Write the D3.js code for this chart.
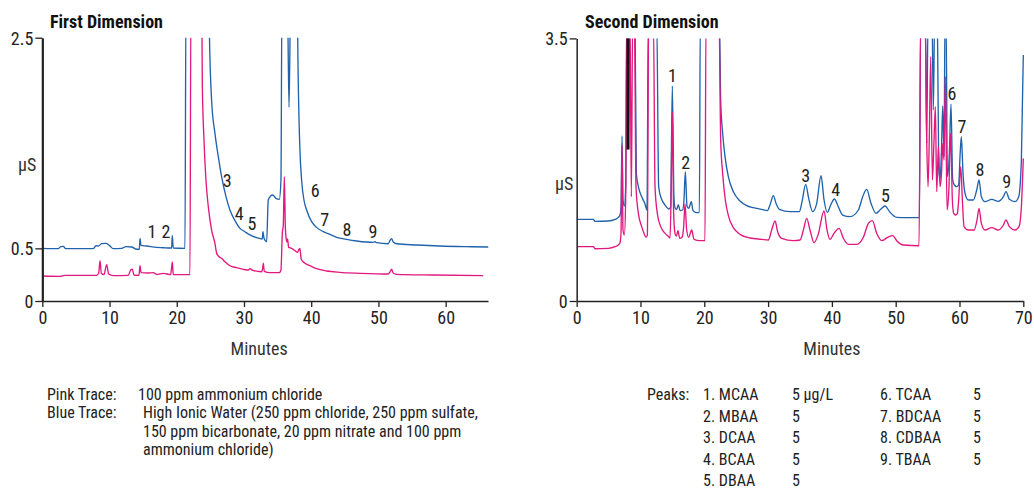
<!DOCTYPE html>
<html><head><meta charset="utf-8">
<script src="https://cdn.jsdelivr.net/npm/d3@7/dist/d3.min.js"></script>
<style>
html,body{margin:0;padding:0;background:#fff;}
svg{display:block;}
</style></head>
<body>
<svg id="c" width="1034" height="491"></svg>
<script>
// ---------------- DATA ----------------
const titles = ["First Dimension", "Second Dimension"];
const xLabel = "Minutes";
const yLabel = "µS";

const leftYTicks = [0, 0.5, 2.5];
const leftXTicks = [0, 10, 20, 30, 40, 50, 60];
const rightYTicks = [0, 3.5];
const rightXTicks = [0, 10, 20, 30, 40, 50, 60, 70];

// First dimension, blue trace [minutes, µS]
const leftBlue = [
[0,0.500],[2.38,0.497],[2.73,0.516],[3.12,0.519],[3.47,0.497],[7.59,0.497],[7.98,0.525],[8.33,0.522],
[8.83,0.544],[9.47,0.547],[9.97,0.528],[10.56,0.497],[11.80,0.500],[12.44,0.516],[13.29,0.513],[14.03,0.491],
[14.43,0.491],[14.53,0.595],[14.68,0.528],[15.52,0.522],[17.01,0.509],[18.0,0.506],[18.99,0.503],[19.24,0.503],
[19.33,0.623],[19.48,0.503],[21.22,0.500],[21.37,2.9],[24.8,2.9],[24.84,2.6],[25.18,1.908],[25.68,1.592],
[26.18,1.370],[26.67,1.180],[27.32,0.991],[27.91,0.864],[28.66,0.763],[29.40,0.690],[30.14,0.658],[30.89,0.627],
[31.88,0.601],[32.72,0.589],[32.82,0.658],[32.97,0.598],[33.37,0.563],[33.61,0.959],[33.96,0.997],[34.26,1.006],
[34.75,0.975],[35.25,0.965],[35.50,1.149],[35.65,2.9],[36.45,2.9],[36.70,1.84],[36.95,2.9],[37.95,2.9],
[37.98,2.6],[38.18,1.75],[38.32,1.434],[38.57,1.149],[38.92,0.959],[39.32,0.864],[40.06,0.753],[40.80,0.699],
[41.79,0.658],[42.79,0.633],[43.78,0.604],[45.26,0.585],[46.75,0.570],[48.24,0.560],[49.23,0.557],[49.48,0.563],
[49.73,0.554],[51.46,0.544],[51.71,0.573],[51.96,0.592],[52.21,0.560],[52.70,0.544],[55.68,0.532],[59.15,0.522],
[63.11,0.516],[66.34,0.513]
];
// First dimension, pink trace
const leftPink = [
[0,0.237],[2.63,0.234],[3.37,0.244],[8.08,0.244],[8.38,0.263],[8.58,0.383],[8.78,0.263],[9.17,0.250],
[9.57,0.345],[9.87,0.256],[10.56,0.241],[12.79,0.244],[13.14,0.294],[13.39,0.301],[13.63,0.247],[14.38,0.244],
[14.53,0.335],[14.68,0.269],[15.77,0.266],[16.51,0.269],[17.01,0.253],[18.00,0.263],[19.09,0.250],[19.34,0.370],
[19.48,0.250],[21.96,0.250],[22.11,2.9],[23.70,2.9],[23.80,2.066],[24.05,1.528],[24.34,1.149],[24.69,0.896],
[25.18,0.674],[25.68,0.547],[25.93,0.453],[26.18,0.427],[26.67,0.405],[27.17,0.373],[27.91,0.335],[28.90,0.316],
[29.90,0.301],[30.64,0.294],[30.89,0.307],[31.23,0.294],[32.62,0.278],[32.77,0.307],[32.87,0.358],[33.02,0.282],
[33.86,0.269],[35.25,0.269],[35.50,0.294],[35.70,0.642],[35.85,0.722],[36.00,1.180],[36.15,0.706],[36.30,0.579],
[36.39,0.563],[36.49,0.589],[36.64,0.509],[37.08,0.500],[37.58,0.478],[37.98,0.462],[38.18,0.491],[38.32,0.500],
[38.52,0.396],[39.07,0.358],[39.81,0.335],[40.80,0.307],[42.29,0.285],[44.27,0.272],[47.25,0.263],[51.46,0.256],
[51.71,0.275],[51.96,0.301],[52.21,0.263],[52.70,0.253],[58.16,0.247],[65.59,0.241]
];
// Second dimension, blue trace
const rightBlue = [
[0,1.088],[2.61,1.088],[2.87,1.062],[4.96,1.066],[6.01,1.088],[6.53,1.115],[6.79,1.146],[6.95,1.257],
[7.11,2.199],[7.26,1.346],[7.47,1.266],[7.68,1.524],[7.84,3.8],[8.0,3.8],[8.10,2.021],[8.25,3.8],
[9.14,3.8],[9.35,1.70],[9.67,1.524],[10.19,1.390],[10.71,1.293],[11.02,1.213],[11.23,3.8],[12.54,3.8],
[12.85,1.524],[13.32,1.355],[13.85,1.279],[14.47,1.226],[14.73,1.257],[14.99,2.865],[15.26,1.346],[15.46,1.235],
[15.67,1.222],[15.94,1.284],[16.20,1.204],[16.61,1.213],[16.82,1.346],[17.03,1.724],[17.29,1.266],[17.55,1.235],
[17.97,1.324],[18.23,1.204],[18.81,1.177],[19.23,1.177],[19.38,3.8],[22.36,3.8],[22.57,2.679],[22.88,2.235],
[23.25,1.924],[23.77,1.657],[24.56,1.457],[25.60,1.333],[26.65,1.271],[27.69,1.244],[29.00,1.222],[29.89,1.204],
[30.30,1.279],[30.83,1.404],[31.24,1.302],[31.77,1.222],[33.44,1.191],[34.90,1.191],[35.32,1.324],[35.89,1.555],
[36.36,1.368],[36.99,1.191],[37.62,1.302],[38.30,1.670],[38.77,1.346],[39.29,1.182],[39.81,1.279],[40.39,1.359],
[41.01,1.257],[41.69,1.146],[42.84,1.124],[44.15,1.213],[44.83,1.390],[45.45,1.488],[46.13,1.302],[46.92,1.168],
[47.65,1.222],[48.33,1.266],[49.11,1.182],[50.16,1.115],[51.72,1.111],[53.71,1.111],[53.92,3.8],[54.65,3.8],
[54.86,2.101],[55.07,3.8],[55.69,3.8],[55.90,2.546],[56.11,3.8],[56.53,3.8],[56.74,1.790],[56.95,1.613],
[57.16,1.968],[57.37,2.599],[57.58,1.924],[57.73,3.8],[57.89,3.8],[58.10,1.657],[58.41,1.968],[58.67,2.625],
[58.93,1.613],[59.20,1.546],[59.56,1.524],[59.87,1.546],[60.08,1.924],[60.29,2.190],[60.55,1.701],[60.87,1.435],
[61.39,1.346],[62.17,1.346],[62.70,1.479],[63.06,1.613],[63.43,1.390],[64.00,1.324],[65.05,1.355],[66.09,1.328],
[66.88,1.390],[67.29,1.457],[67.82,1.355],[68.70,1.324],[69.28,1.390],[69.70,1.879],[70.0,3.279]
];
// Second dimension, pink trace
const rightPink = [
[0,0.724],[2.61,0.724],[2.87,0.697],[4.96,0.702],[6.01,0.724],[6.53,0.746],[6.79,0.777],[6.95,0.902],
[7.11,2.079],[7.26,0.946],[7.47,0.880],[7.68,1.346],[7.89,3.8],[8.36,3.8],[8.57,1.390],[8.78,3.8],
[9.04,3.8],[9.30,1.524],[9.67,1.168],[10.19,0.991],[10.55,0.902],[10.87,0.849],[11.08,0.880],[11.29,3.8],
[12.02,3.8],[12.28,1.524],[12.64,1.168],[13.17,0.991],[13.85,0.902],[14.42,0.857],[14.63,0.840],[14.79,1.346],
[14.99,2.523],[15.20,1.168],[15.41,0.902],[15.62,0.866],[15.88,0.937],[16.14,0.835],[16.51,0.849],[16.77,0.991],
[16.98,1.293],[17.24,0.946],[17.55,0.849],[18.03,0.946],[18.39,0.822],[19.33,0.804],[20.11,0.804],[20.27,3.8],
[22.31,3.8],[22.57,2.146],[22.88,1.701],[23.30,1.346],[23.82,1.124],[24.56,0.977],[25.60,0.888],[27.17,0.840],
[29.00,0.822],[30.04,0.813],[30.56,0.946],[31.09,1.066],[31.50,0.924],[32.13,0.835],[33.96,0.804],[35.01,0.813],
[35.53,0.946],[36.05,1.102],[36.57,0.946],[37.20,0.777],[37.83,0.880],[38.77,1.199],[39.24,0.946],[39.71,0.822],
[40.33,0.902],[41.12,0.968],[41.80,0.835],[42.58,0.755],[43.89,0.755],[44.93,0.849],[45.72,1.035],[46.34,1.071],
[47.02,0.902],[47.81,0.804],[48.75,0.849],[49.53,0.871],[50.16,0.804],[51.20,0.746],[53.66,0.737],[53.92,3.8],
[54.60,3.8],[54.86,2.146],[55.07,1.524],[55.28,2.235],[55.49,3.256],[55.75,1.613],[56.01,2.146],[56.22,2.590],
[56.43,1.457],[56.69,2.057],[56.95,1.524],[57.21,1.746],[57.37,2.101],[57.58,1.879],[57.78,2.990],[58.05,1.213],
[58.31,1.435],[58.62,2.235],[58.88,1.346],[59.09,1.168],[59.40,1.146],[59.67,1.168],[59.87,1.346],[60.19,1.790],
[60.45,1.346],[60.71,0.991],[61.39,0.946],[62.28,0.946],[62.75,1.080],[63.06,1.235],[63.43,1.035],[64.00,0.946],
[65.05,0.977],[66.09,0.946],[66.88,1.013],[67.29,1.080],[67.82,0.991],[68.70,0.946],[69.33,0.991],[69.70,1.257],
[70.0,1.901]
];
// overlapping dark segment near 8 min (second dimension)
const rightOverlap = [[8.05,3.8],[8.06,2.02]];

// peak labels [label, minutes, µS]
const leftPeakLabels = [["1",16.3,0.655],["2",18.4,0.655],["3",27.5,1.14],["4",29.3,0.835],["5",31.2,0.74],
  ["6",40.6,1.045],["7",42.0,0.778],["8",45.3,0.683],["9",49.2,0.664]];
const rightPeakLabels = [["1",15.0,3.0],["2",17.1,1.848],["3",35.9,1.679],["4",40.6,1.49],["5",48.4,1.40],
  ["6",58.8,2.76],["7",60.4,2.323],["8",63.2,1.755],["9",67.4,1.59]];

// legend texts
const traceLegend = [
  ["Pink Trace:", "100 ppm ammonium chloride"],
  ["Blue Trace:", "High Ionic Water (250 ppm chloride, 250 ppm sulfate,"],
  ["", "150 ppm bicarbonate, 20 ppm nitrate and 100 ppm"],
  ["", "ammonium chloride)"]
];
const peakNames = ["1. MCAA","2. MBAA","3. DCAA","4. BCAA","5. DBAA","6. TCAA","7. BDCAA","8. CDBAA","9. TBAA"];
const peakConc = ["5 µg/L","5","5","5","5","5","5","5","5"];

// ---------------- DRAWING ----------------
const FONT = "'Liberation Sans Narrow','Arial Narrow','Roboto Condensed','DejaVu Sans Condensed',sans-serif";
const BLUE = "#1f63ad", PINK = "#e2187f";
const svg = d3.select("#c").style("font-family", FONT);

function chart(o) {
  const x = d3.scaleLinear().domain([0, o.xMax]).range([o.left, o.right]);
  const y = d3.scaleLinear().domain([0, o.yMax]).range([o.bottom, o.top]);
  const g = svg.append("g");
  const cid = "clip" + o.id;
  svg.append("defs").append("clipPath").attr("id", cid).append("rect")
    .attr("x", o.left).attr("y", o.top).attr("width", o.right - o.left + 1).attr("height", o.bottom - o.top);
  const plot = g.append("g").attr("clip-path", `url(#${cid})`);
  o.series.forEach(s => {
    const line = d3.line().x(d => x(d[0])).y(d => y(d[1])).curve(s.curve || d3.curveMonotoneX);
    plot.append("path").attr("d", line(s.data)).attr("fill", "none")
      .attr("stroke", s.color).attr("stroke-width", s.width || 1.35).attr("stroke-linejoin", "round");
  });
  // axes
  const ax = g.append("g").attr("transform", `translate(0,${o.bottom})`)
    .call(d3.axisBottom(x).tickValues(o.xTicks).tickSize(6).tickSizeOuter(0).tickPadding(4).tickFormat(d => d));
  const ay = g.append("g").attr("transform", `translate(${o.left},0)`)
    .call(d3.axisLeft(y).tickValues(o.yTicks).tickSize(7).tickSizeOuter(0).tickPadding(2).tickFormat(d => d));
  [ax, ay].forEach(a => {
    a.selectAll("text").attr("font-family", FONT).attr("font-size", 18).attr("fill", "#222");
    a.selectAll("line").attr("stroke", "#222").attr("stroke-width", 1.3);
    a.select(".domain").attr("stroke", "#222").attr("stroke-width", 1.5);
  });
  ay.select(".domain").attr("stroke-width", o.yAxisWidth);
  ay.selectAll("text").attr("dy", "0.36em");
  // labels
  g.append("text").attr("x", o.titleX).attr("y", 28).attr("font-weight", "bold").attr("font-size", 18)
    .attr("fill", "#111").text(o.title);
  g.append("text").attr("x", (x(0) + x(o.xLabelMax)) / 2).attr("y", 355).attr("text-anchor", "middle")
    .attr("font-size", 18).attr("fill", "#333").text(xLabel);
  g.append("text").attr("x", o.yLabelX).attr("y", o.yLabelY).attr("font-size", 18).attr("fill", "#333").text(yLabel);
  g.selectAll(".pk").data(o.peaks).enter().append("text")
    .attr("x", d => x(d[1])).attr("y", d => y(d[2])).attr("dy", "0.36em")
    .attr("text-anchor", "middle").attr("font-size", 18).attr("fill", "#222").text(d => d[0]);
}

chart({id: 1, left: 42.33, right: 488, top: 37.7, bottom: 301, xMax: 66.3, yMax: 2.5,
  xTicks: leftXTicks, yTicks: leftYTicks, yAxisWidth: 2.2, title: titles[0], titleX: 50,
  xLabelMax: 64.5, yLabelX: 18, yLabelY: 171, peaks: leftPeakLabels,
  series: [{data: leftBlue, color: BLUE}, {data: leftPink, color: PINK}]});

chart({id: 2, left: 576.67, right: 1023.3, top: 38.4, bottom: 301, xMax: 70, yMax: 3.5,
  xTicks: rightXTicks, yTicks: rightYTicks, yAxisWidth: 1.5, title: titles[1], titleX: 585,
  xLabelMax: 80, yLabelX: 555, yLabelY: 190, peaks: rightPeakLabels,
  series: [{data: rightBlue, color: BLUE}, {data: rightPink, color: PINK},
           {data: rightOverlap, color: "#111", width: 3, curve: d3.curveLinear}]});

// trace legend
const tl = svg.append("g").attr("font-size", 16).attr("fill", "#222");
traceLegend.forEach((r, i) => {
  const yy = 400 + i * 18.4;
  if (r[0]) tl.append("text").attr("x", 47).attr("y", yy).text(r[0]);
  tl.append("text").attr("x", i === 0 ? 138 : 143).attr("y", yy).text(r[1]);
});
// peak legend
const pl = svg.append("g").attr("font-size", 16).attr("fill", "#222");
pl.append("text").attr("x", 647).attr("y", 400).text("Peaks:");
peakNames.forEach((n, i) => {
  const col = i < 5 ? 0 : 1, row = i < 5 ? i : i - 5;
  const yy = 400 + row * 21.6;
  pl.append("text").attr("x", col ? 880 : 703).attr("y", yy).text(n);
  pl.append("text").attr("x", col ? 973 : 792).attr("y", yy).text(peakConc[i]);
});
</script>
</body></html>
